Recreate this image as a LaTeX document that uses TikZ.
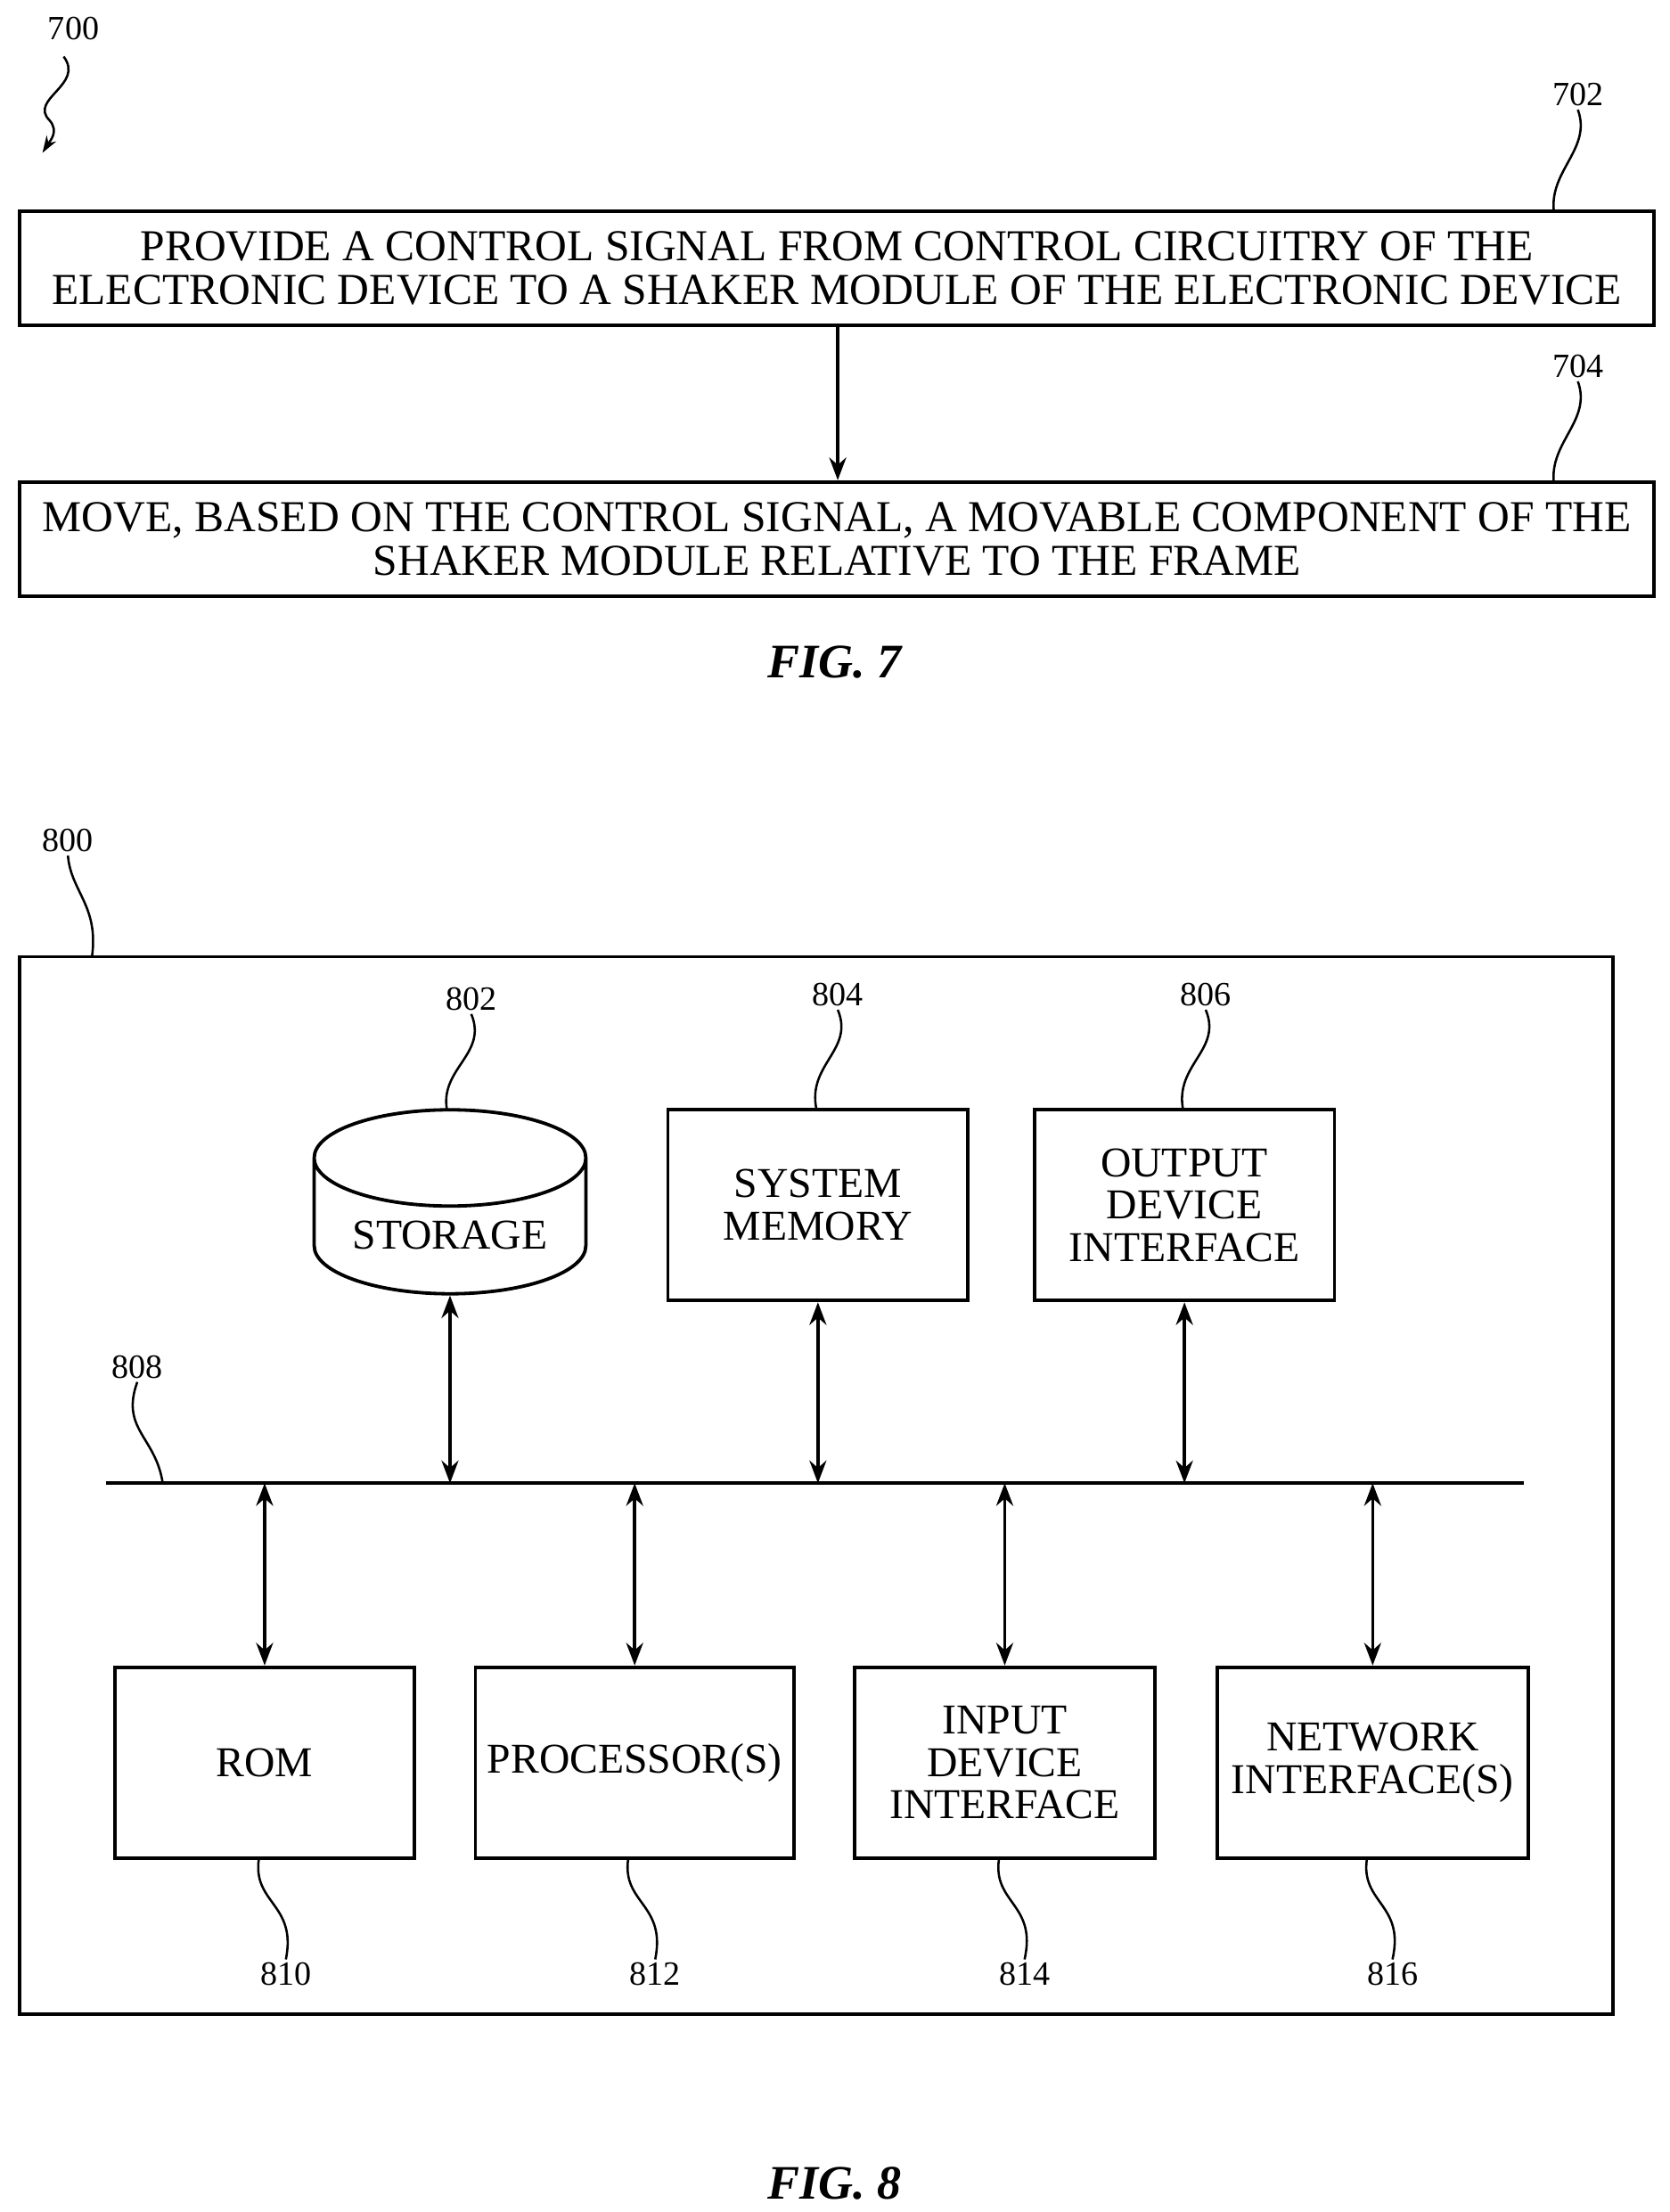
\documentclass[tikz,border=0pt]{standalone}
\usepackage{fontspec}
\setmainfont{Liberation Serif}
\usetikzlibrary{shapes.geometric,arrows.meta}
\begin{document}
\begin{tikzpicture}[x=0.5pt,y=-0.5pt,
  box/.style={draw,line width=1.2pt,inner sep=0pt,align=center,font=\fontsize{15}{15}\selectfont},
  wide/.style={box,minimum width=577.5pt,minimum height=40.5pt,font=\fontsize{15.6}{15.6}\selectfont},
  lab/.style={font=\fontsize{12}{12}\selectfont,inner sep=1pt},
  fig/.style={font=\fontsize{17}{17}\selectfont\bfseries\itshape},
  arr/.style={line width=1.1pt,-{Stealth[length=8pt,width=6pt]}},
  darr/.style={line width=1.1pt,{Stealth[length=8pt,width=6pt]}-{Stealth[length=8pt,width=6pt]}},
  sq/.style={line width=0.8pt}]
\useasboundingbox (0,0) rectangle (1180,1563);
% FIG 7
\node[lab] (l700) at (52,20) {700};
\coordinate (e700) at (30,108);
\draw[sq,-{Stealth[length=6pt,width=4pt]}] (45,40) .. controls (60,60) and (20,70) .. (35,85) .. controls (42,93) and (35,100) .. (e700);
\node[wide] (b702) at (591.5,189.5) {PROVIDE A CONTROL SIGNAL FROM CONTROL CIRCUITRY OF THE\\ELECTRONIC DEVICE TO A SHAKER MODULE OF THE ELECTRONIC DEVICE};
\node[wide] (b704) at (591.5,381) {MOVE, BASED ON THE CONTROL SIGNAL, A MOVABLE COMPONENT OF THE\\SHAKER MODULE RELATIVE TO THE FRAME};
\node[lab] (l702) at (1115,67) {702};
\node[lab] (l704) at (1115,259) {704};
\draw[sq] (l702.south) .. controls (1125,105) and (1095,120) .. (1098,149);
\draw[sq] (l704.south) .. controls (1125,297) and (1095,312) .. (1098,341);
\draw[arr] (592,230) -- (b704.north -| 592,0);
\node[fig] (f7) at (590,468) {FIG. 7};
% FIG 8
\node[lab] (l800) at (48,594) {800};
\node[draw,line width=1.2pt,minimum width=563pt,minimum height=373.5pt] (outer) at (577,1049.5) {};
\draw[sq] (l800.south) .. controls (50,630) and (70,640) .. (65,676);
% storage cylinder
\node[cylinder,shape border rotate=90,draw,line width=1.2pt,minimum width=96pt,minimum height=65pt,aspect=0.45,font=\fontsize{15}{15}\selectfont] (s802) at (318,873) {STORAGE};
\node[box,minimum width=106pt,minimum height=67.5pt] (b804) at (578,851.5) {SYSTEM\\MEMORY};
\node[box,minimum width=106pt,minimum height=67.5pt] (b806) at (837,851.5) {OUTPUT\\DEVICE\\INTERFACE};
\node[lab] (l802) at (333,706) {802};
\node[lab] (l804) at (592,703) {804};
\node[lab] (l806) at (852,703) {806};
\draw[sq] (l802.south) .. controls (345,745) and (310,755) .. (316,785);
\draw[sq] (l804.south) .. controls (604,742) and (570,752) .. (577,784);
\draw[sq] (l806.south) .. controls (864,742) and (830,752) .. (836,784);
% bus
\coordinate (busL) at (75,1048);
\coordinate (busR) at (1077,1048);
\draw[line width=1.3pt] (busL) -- (busR);
\node[lab] (l808) at (97,966) {808};
\draw[sq] (l808.south) .. controls (85,1010) and (110,1015) .. (115,1048);
\draw[darr] (s802.bottom) -- (318,1048);
\draw[darr] (b804.south) -- (578,1048);
\draw[darr] (b806.south) -- (837,1048);
% lower boxes
\node[box,minimum width=106pt,minimum height=67.5pt] (b810) at (187,1245.5) {ROM};
\node[box,minimum width=112.5pt,minimum height=67.5pt] (b812) at (448.5,1245.5) {PROCESSOR(S)};
\node[box,minimum width=106pt,minimum height=67.5pt] (b814) at (710,1245.5) {INPUT\\DEVICE\\INTERFACE};
\node[box,minimum width=110pt,minimum height=67.5pt] (b816) at (970,1245.5) {NETWORK\\INTERFACE(S)};
\draw[darr] (187,1048) -- (b810.north);
\draw[darr] (448.5,1048) -- (b812.north);
\draw[darr] (710,1048) -- (b814.north);
\draw[darr] (970,1048) -- (b816.north);
\node[lab] (l810) at (202,1395) {810};
\node[lab] (l812) at (463,1395) {812};
\node[lab] (l814) at (724,1395) {814};
\node[lab] (l816) at (984,1395) {816};
\draw[sq] (183,1313) .. controls (178,1345) and (210,1345) .. (l810.north);
\draw[sq] (444,1313) .. controls (439,1345) and (471,1345) .. (l812.north);
\draw[sq] (706,1313) .. controls (701,1345) and (733,1345) .. (l814.north);
\draw[sq] (966,1313) .. controls (961,1345) and (993,1345) .. (l816.north);
\node[fig] (f8) at (590,1543) {FIG. 8};
\end{tikzpicture}
\end{document}
